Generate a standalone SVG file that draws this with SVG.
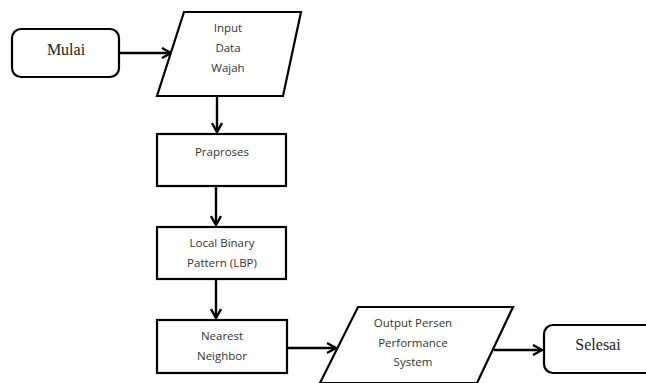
<svg xmlns="http://www.w3.org/2000/svg" width="646" height="383" viewBox="0 0 646 383">
<defs>
<marker id="arr" viewBox="0 0 12 12" refX="11" refY="6" markerWidth="12" markerHeight="12" markerUnits="userSpaceOnUse" orient="auto">
<path d="M2,1 L11,6 L2,11" fill="none" stroke="#000" stroke-width="2.4"/>
</marker>
<style>
.shape{fill:#fff;stroke:#000;stroke-width:2.2}
.conn{fill:none;stroke:#000;stroke-width:2.4;marker-end:url(#arr)}
.serif{font-family:"Liberation Serif",serif;font-size:16px;fill:#222;text-anchor:middle}
.sans{font-family:"Open Sans","Liberation Sans",sans-serif;font-size:11.5px;fill:#333;text-anchor:middle}
</style>
</defs>
<rect width="646" height="383" fill="#fff"/>
<g id="connectors">
<line class="conn" x1="119" y1="53" x2="171" y2="53"/>
<line class="conn" x1="217" y1="96" x2="217" y2="132"/>
<line class="conn" x1="216" y1="186" x2="216" y2="225"/>
<line class="conn" x1="216" y1="279" x2="216" y2="318"/>
<line class="conn" x1="287" y1="348" x2="336" y2="348"/>
<line class="conn" x1="494" y1="350" x2="542" y2="350"/>
</g>
<g id="mulai">
<rect class="shape" x="12" y="29" width="107" height="48" rx="9"/>
<text class="serif" x="66" y="55">Mulai</text>
</g>
<g id="input">
<polygon class="shape" points="184,12 301,12 283,96 157,96"/>
<text class="sans" x="228" y="32">Input</text>
<text class="sans" x="228" y="52">Data</text>
<text class="sans" x="228" y="72">Wajah</text>
</g>
<g id="praproses">
<rect class="shape" x="157" y="134" width="129" height="52"/>
<text class="sans" x="222" y="156">Praproses</text>
</g>
<g id="lbp">
<rect class="shape" x="157" y="227" width="129" height="52"/>
<text class="sans" x="222" y="247">Local Binary</text>
<text class="sans" x="222" y="267">Pattern (LBP)</text>
</g>
<g id="nearest">
<rect class="shape" x="157" y="320" width="130" height="53"/>
<text class="sans" x="222" y="340">Nearest</text>
<text class="sans" x="222" y="360">Neighbor</text>
</g>
<g id="output">
<polygon class="shape" points="358,307 513,307 477,383 320,383"/>
<text class="sans" x="413" y="327">Output Persen</text>
<text class="sans" x="413" y="347">Performance</text>
<text class="sans" x="413" y="366">System</text>
</g>
<g id="selesai">
<rect class="shape" x="544" y="325" width="120" height="48" rx="9"/>
<text class="serif" x="598" y="350">Selesai</text>
</g>
</svg>
